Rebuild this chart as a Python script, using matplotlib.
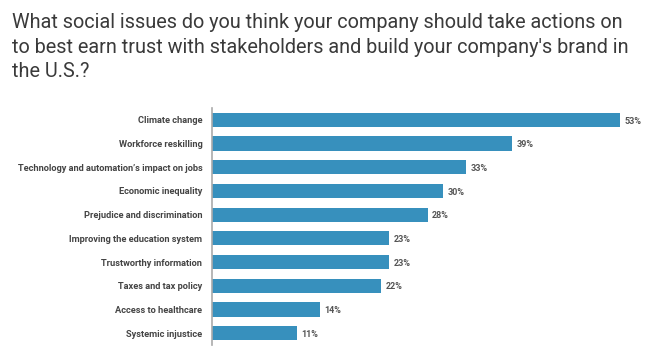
import matplotlib
matplotlib.use('Agg')
import matplotlib.pyplot as plt

# social issues, top to bottom
issues = ['Climate change', 'Workforce reskilling',
          "Technology and automation\u2019s impact on jobs",
          'Economic inequality', 'Prejudice and discrimination',
          'Improving the education system', 'Trustworthy information',
          'Taxes and tax policy', 'Access to healthcare', 'Systemic injustice']
shares = [53, 39, 33, 30, 28, 23, 23, 22, 14, 11]

title = ("What social issues do you think your company should take actions on\n"
         "to best earn trust with stakeholders and build your company's brand in\n"
         "the U.S.?")

plt.rcParams['font.family'] = ['Roboto', 'DejaVu Sans']

fig = plt.figure(figsize=(6.53, 3.57), dpi=100)
ax = fig.add_axes([212/653, 1-345/357, (645-212)/653, (345-108)/357])

pos = list(range(len(issues)))
ax.barh(pos, shares, height=0.6, color='#3790bd')
ax.set_ylim(9.5, -0.5)
ax.set_xlim(0, (645-212)/7.7)

for p, v in zip(pos, shares):
    ax.text(v + 0.6, p + 0.05, f'{v}%', va='center', ha='left',
            fontsize=6.5, fontweight='bold', color='#555555')

ax.set_yticks(pos)
ax.set_yticklabels(issues, fontsize=6.7, fontweight='bold', color='#444444')
ax.tick_params(axis='y', length=0, pad=7)
ax.set_xticks([])
for s in ['top', 'right', 'bottom']:
    ax.spines[s].set_visible(False)
ax.spines['left'].set_color('#aaaaaa')
ax.spines['left'].set_linewidth(1.2)

fig.text(12/653, 1-13/357, title, ha='left', va='top', fontsize=14.3,
         fontweight='normal', color='#3a3a3a', linespacing=1.38)

fig.savefig('out.png', dpi=100)
